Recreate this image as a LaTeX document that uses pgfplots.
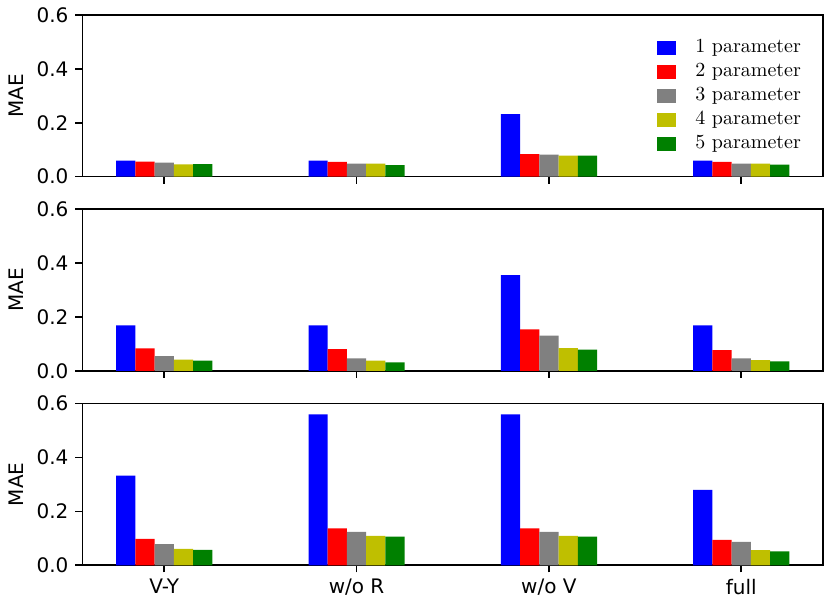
\documentclass[border=0pt]{standalone}
\usepackage{fontspec}
\usepackage{pgfplots}
\pgfplotsset{compat=1.18}
\usepackage{pgfplotstable}
\newfontfamily\dejavu{DejaVu Sans}
\definecolor{cB}{RGB}{0,0,255}
\definecolor{cR}{RGB}{255,0,0}
\definecolor{cG}{RGB}{128,128,128}
\definecolor{cY}{RGB}{191,191,0}
\definecolor{cN}{RGB}{0,128,0}

\pgfplotstableread{
g v1 v2 v3 v4 v5
0 0.060 0.056 0.052 0.046 0.047
1 0.060 0.055 0.048 0.048 0.043
2 0.232 0.084 0.082 0.078 0.078
3 0.060 0.055 0.048 0.048 0.045
}\tA
\pgfplotstableread{
g v1 v2 v3 v4 v5
0 0.169 0.084 0.055 0.042 0.038
1 0.169 0.081 0.047 0.038 0.032
2 0.356 0.154 0.131 0.085 0.079
3 0.169 0.077 0.047 0.040 0.036
}\tB
\pgfplotstableread{
g v1 v2 v3 v4 v5
0 0.333 0.098 0.079 0.061 0.057
1 0.560 0.137 0.124 0.109 0.106
2 0.560 0.137 0.124 0.109 0.106
3 0.280 0.094 0.087 0.056 0.052
}\tC

\pgfplotsset{
  panel/.style={
    scale only axis, width=370.25pt, height=80.85pt,
    anchor=south west,
    xmin=-0.425, xmax=3.425, ymin=0, ymax=0.6,
    xtick={0,1,2,3}, ytick={0,0.2,0.4,0.6},
    yticklabels={0.0,0.2,0.4,0.6},
    tick pos=left, tick align=outside,
    major tick length=3.5pt,
    every tick/.style={black, line width=0.8pt},
    axis line style={line width=0.8pt},
    ticklabel style={font=\dejavu\fontsize{10}{12}\selectfont},
    ylabel={MAE},
    ylabel style={font=\dejavu\fontsize{10}{12}\selectfont, at={(axis description cs:-0.0891,0.5)}, anchor=center},
  },
  sq/.style={legend image code/.code={\fill[##1] (0pt,-3.5pt) rectangle (9.5pt,3.5pt);}},
  bb/.style={ybar, bar width=0.1, bar shift=0pt, draw=none, fill=#1, sq},
}
\newcommand\bars[1]{%
  \addplot[bb=cB] table[x expr=\thisrow{g}-0.2, y=v1]{#1};
  \addplot[bb=cR] table[x expr=\thisrow{g}-0.1, y=v2]{#1};
  \addplot[bb=cG] table[x expr=\thisrow{g}, y=v3]{#1};
  \addplot[bb=cY] table[x expr=\thisrow{g}+0.1, y=v4]{#1};
  \addplot[bb=cN] table[x expr=\thisrow{g}+0.2, y=v5]{#1};
}

\begin{document}
\begin{tikzpicture}
\useasboundingbox (0,0) rectangle (415pt,304pt);
\begin{axis}[panel, at={(41.25pt,215.65pt)}, xticklabels={},
  legend style={draw=none, fill=none, at={(axis description cs:0.7757,0.866)}, anchor=north west,
    inner sep=0pt, row sep=1.5pt, column sep=8.5pt,
    nodes={inner sep=1pt, text height=6.5pt, text depth=2pt},
    cells={anchor=west}, font=\fontsize{10}{12}\selectfont},
  legend entries={1 parameter,2 parameter,3 parameter,4 parameter,5 parameter}]
\bars{\tA}
\end{axis}
\begin{axis}[panel, at={(41.25pt,118.5pt)}, xticklabels={}]
\bars{\tB}
\end{axis}
\begin{axis}[panel, at={(41.25pt,21.35pt)}, xticklabels={V-Y,w/o R,w/o V,full}]
\bars{\tC}
\end{axis}
\end{tikzpicture}
\end{document}
